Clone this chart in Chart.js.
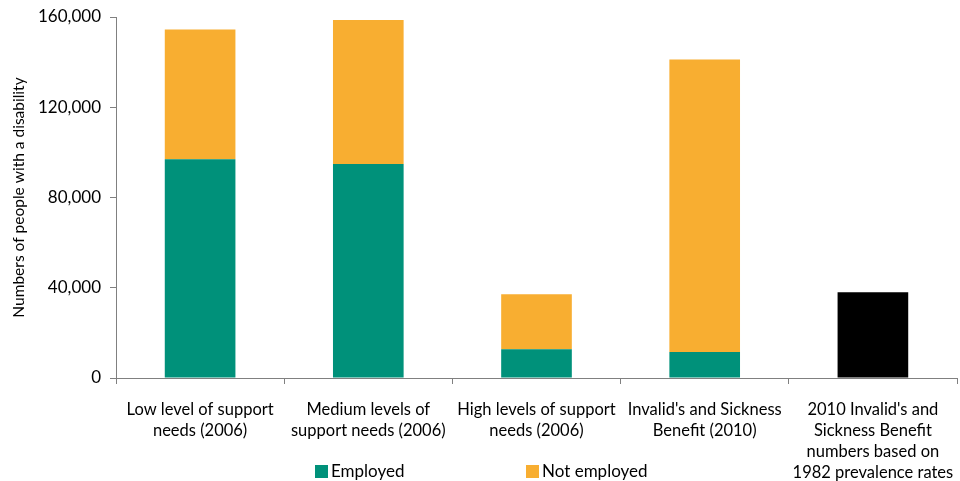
<!DOCTYPE html>
<html>
<head>
<meta charset="utf-8">
<script src="https://cdn.jsdelivr.net/npm/chart.js@4"></script>
<style>
  html, body { margin: 0; padding: 0; background: #fff; }
  #wrap { width: 960px; height: 481px; }
</style>
</head>
<body>
<div id="wrap"><canvas id="myChart" width="960" height="481"></canvas></div>
<script>
// category labels (multi-line like the original)
const categories = [
    ['Low level of support', 'needs (2006)'],
    ['Medium levels of', 'support needs (2006)'],
    ['High levels of support', 'needs (2006)'],
    ["Invalid's and Sickness", 'Benefit (2010)'],
    ["2010 Invalid's and", 'Sickness Benefit', 'numbers based on', '1982 prevalence rates']
];

const employed    = [96900, 94800, 12700, 11500, null];
const notEmployed = [57600, 63900, 24400, 129700, null];
const prevalence  = [null, null, null, null, 38000];   // black bar, no legend entry

const yTicks = [0, 40000, 80000, 120000, 160000];

const font = "Lato, 'Open Sans', sans-serif";

// legend drawn by hand: the items sit far apart in the original
const bottomLegend = {
    id: 'bottomLegend',
    afterDraw(chart) {
        const c = chart.ctx;
        const items = [{ i: 0, x: 315 }, { i: 1, x: 526 }];
        c.save();
        c.font = '17px ' + font;
        c.textBaseline = 'middle';
        items.forEach(it => {
            const ds = chart.data.datasets[it.i];
            c.fillStyle = ds.backgroundColor;
            c.fillRect(it.x, 465, 13, 13);
            c.fillStyle = '#000';
            c.fillText(ds.label, it.x + 16, 472);
        });
        c.restore();
    }
};

const ctx = document.getElementById('myChart');

const myChart = new Chart(ctx, {
    type: 'bar',
    data: {
        labels: categories,
        datasets: [{
            label: 'Employed',
            data: employed,
            backgroundColor: '#00917A',
            barPercentage: 0.42,
            categoryPercentage: 1
        },
        {
            label: 'Not employed',
            data: notEmployed,
            backgroundColor: '#F8AE31',
            barPercentage: 0.42,
            categoryPercentage: 1
        },
        {
            label: '1982 rates',
            data: prevalence,
            backgroundColor: '#000000',
            barPercentage: 0.42,
            categoryPercentage: 1
        }]
    },
    plugins: [bottomLegend],
    options: {
        responsive: false,
        animation: false,
        layout: { padding: { top: 17, right: 3, left: 0, bottom: 0 } },
        scales: {
            x: {
                stacked: true,
                offset: true,
                grid: {
                    display: true,
                    drawOnChartArea: false,
                    offset: true,
                    tickLength: 6,
                    color: '#808080'
                },
                border: { color: '#808080' },
                ticks: {
                    color: '#000',
                    padding: 15,
                    maxRotation: 0,
                    autoSkip: false,
                    font: { family: font, size: 16.5, lineHeight: 1.28 }
                },
                afterFit: function(scale) {
                    scale.height = 103;
                    scale.paddingLeft = 0;
                    scale.paddingRight = 0;
                }
            },
            y: {
                stacked: true,
                min: 0,
                max: 160000,
                afterBuildTicks: function(scale) {
                    scale.ticks = yTicks.map(v => ({ value: v }));
                },
                grid: {
                    display: true,
                    drawOnChartArea: false,
                    tickLength: 6,
                    color: '#808080'
                },
                border: { color: '#808080' },
                title: {
                    display: true,
                    text: 'Numbers of people with a disability',
                    color: '#000',
                    font: { family: font, size: 15.5 },
                    padding: { top: 10, bottom: 4 }
                },
                ticks: {
                    color: '#000',
                    padding: 9,
                    callback: function(val) { return val.toLocaleString('en-US'); },
                    font: { family: font, size: 17 }
                },
                afterFit: function(scale) {
                    scale.width = 116;
                    scale.paddingTop = 0;
                    scale.paddingBottom = 0;
                }
            }
        },
        plugins: {
            legend: { display: false },
            tooltip: { enabled: false }
        }
    }
});
</script>
</body>
</html>
